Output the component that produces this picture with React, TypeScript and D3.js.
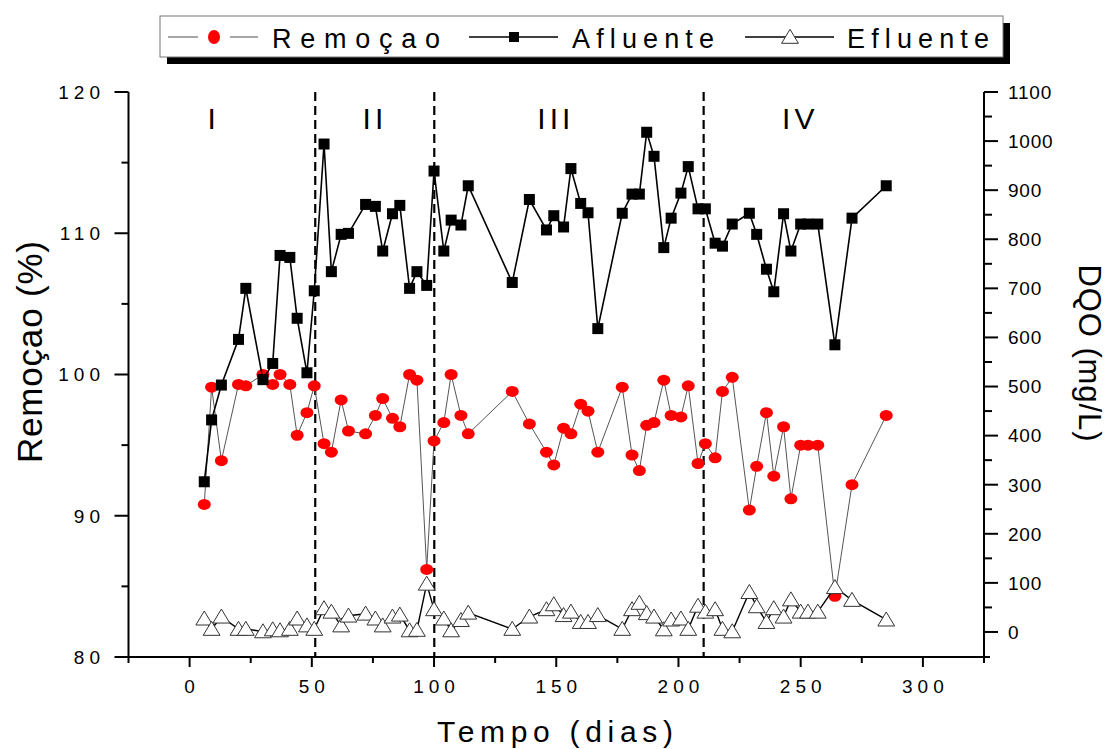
import React from "react";
import * as d3 from "d3";

const days = [6, 9, 13, 20, 23, 30, 34, 37, 41, 44, 48, 51, 55, 58, 62, 65, 72, 76, 79, 83, 86, 90, 93, 97, 100, 104, 107, 111, 114, 132, 139, 146, 149, 153, 156, 160, 163, 167, 177, 181, 184, 187, 190, 194, 197, 201, 204, 208, 211, 215, 218, 222, 229, 232, 236, 239, 243, 246, 250, 253, 257, 264, 271, 285];

const remocao = [90.8, 99.1, 93.9, 99.3, 99.2, 100.0, 99.3, 100.0, 99.3, 95.7, 97.3, 99.2, 95.1, 94.5, 98.2, 96.0, 95.8, 97.1, 98.3, 96.9, 96.3, 100.0, 99.6, 86.2, 95.3, 96.6, 100.0, 97.1, 95.8, 98.8, 96.5, 94.5, 93.6, 96.2, 95.8, 97.9, 97.4, 94.5, 99.1, 94.3, 93.2, 96.4, 96.6, 99.6, 97.1, 97.0, 99.2, 93.7, 95.1, 94.1, 98.8, 99.8, 90.4, 93.5, 97.3, 92.8, 96.3, 91.2, 95.0, 95.0, 95.0, 84.3, 92.2, 97.1];

const afluente = [306, 432, 503, 596, 700, 514, 547, 767, 763, 639, 528, 695, 994, 734, 810, 812, 871, 867, 776, 852, 869, 700, 734, 706, 939, 776, 839, 829, 909, 712, 881, 819, 848, 825, 944, 873, 854, 618, 853, 892, 892, 1018, 969, 783, 843, 894, 948, 862, 862, 792, 786, 831, 853, 810, 739, 693, 852, 776, 831, 831, 831, 585, 843, 909];

const efluente = [27, 6, 31, 6, 6, 1, 5, 3, 6, 27, 13, 6, 48, 41, 13, 33, 37, 27, 13, 31, 35, 3, 4, 98, 46, 27, 3, 24, 39, 6, 31, 46, 56, 34, 41, 20, 20, 34, 6, 46, 59, 38, 31, 5, 25, 27, 6, 53, 41, 46, 6, 1, 81, 52, 20, 48, 31, 66, 41, 41, 41, 91, 65, 25];

const phaseBounds = [51.4, 100.1, 210.3];
const phaseLabels = ["I", "II", "III", "IV"];
const phaseLabelX = [9, 75, 149, 249];

const xMajor = [0, 50, 100, 150, 200, 250, 300];
const xMinor = [-25, 25, 75, 125, 175, 225, 275, 325];
const yLeftMajor = [80, 90, 100, 110, 120];
const yLeftMinor = [85, 95, 105, 115];
const yRightMajor = [0, 100, 200, 300, 400, 500, 600, 700, 800, 900, 1000, 1100];
const yRightMinor = [50, 150, 250, 350, 450, 550, 650, 750, 850, 950, 1050];

const legendItems = ["Remoçao", "Afluente", "Efluente"];

const FONT = "'Liberation Sans', Arial, sans-serif";

export default function App() {
  const W = 1110, H = 749;
  const x = d3.scaleLinear().domain([-25, 325]).range([128.5, 984]);
  const yL = d3.scaleLinear().domain([80, 120]).range([657, 92]);
  const yR = d3.scaleLinear().domain([-51, 1100]).range([657, 92]);
  const left = x.range()[0], right = x.range()[1];
  const top = 92, bottom = 657;

  const remLine = d3.line<number>().x((_, i) => x(days[i])).y((d) => yL(d))(remocao) || "";
  const afLine = d3.line<number>().x((_, i) => x(days[i])).y((d) => yR(d))(afluente) || "";
  const efLine = d3.line<number>().x((_, i) => x(days[i])).y((d) => yR(d))(efluente) || "";

  const tri = (cx: number, cy: number, s: number) =>
    `M${cx},${cy - s * 0.55} L${cx + s * 0.6},${cy + s * 0.45} L${cx - s * 0.6},${cy + s * 0.45} Z`;

  return (
    <svg width={W} height={H} style={{ position: "absolute", left: 0, top: 0, background: "#fff" }} fontFamily={FONT}>
      <rect x={0} y={0} width={W} height={H} fill="#fff" />

      {/* legend */}
      <rect x={167} y={23} width={843} height={41} fill="#000" />
      <rect x={160} y={16} width={843} height={41} fill="#fff" stroke="#777" strokeWidth={1} />
      <line x1={168} x2={198} y1={37} y2={37} stroke="#777" strokeWidth={1.3} />
      <line x1={230} x2={258} y1={37} y2={37} stroke="#777" strokeWidth={1.3} />
      <ellipse cx={214} cy={37} rx={6} ry={7} fill="#ff0000" />
      <text x={272} y={48} fontSize={27} textLength={168} lengthAdjust="spacing">{legendItems[0]}</text>
      <line x1={469} x2={558} y1={37} y2={37} stroke="#000" strokeWidth={1.5} />
      <rect x={509} y={32} width={10} height={10} fill="#000" />
      <text x={572} y={48} fontSize={27} textLength={142} lengthAdjust="spacing">{legendItems[1]}</text>
      <line x1={745} x2={834} y1={37} y2={37} stroke="#000" strokeWidth={1.5} />
      <path d={tri(790, 37, 14)} fill="#fff" stroke="#333" strokeWidth={1} />
      <text x={847} y={48} fontSize={27} textLength={142} lengthAdjust="spacing">{legendItems[2]}</text>

      {/* phase dividers */}
      {phaseBounds.map((b, i) => (
        <line key={"pb" + i} x1={x(b)} x2={x(b)} y1={top} y2={bottom} stroke="#000" strokeWidth={2.2} strokeDasharray="9,5" />
      ))}
      {phaseLabels.map((p, i) => (
        <text key={"pl" + i} x={x(phaseLabelX[i])} y={129} fontSize={30} textAnchor="middle" letterSpacing={4} dx={2}>{p}</text>
      ))}

      {/* Remoção series */}
      <path d={remLine} fill="none" stroke="#555" strokeWidth={1} />
      {remocao.map((v, i) => (
        <ellipse key={"r" + i} cx={x(days[i])} cy={yL(v)} rx={6.5} ry={5.5} fill="#ff0000" />
      ))}

      {/* Afluente series */}
      <path d={afLine} fill="none" stroke="#000" strokeWidth={1.6} />
      {afluente.map((v, i) => (
        <rect key={"a" + i} x={x(days[i]) - 5.5} y={yR(v) - 5.5} width={11} height={11} fill="#000" />
      ))}

      {/* Efluente series */}
      <path d={efLine} fill="none" stroke="#000" strokeWidth={1.4} />
      {efluente.map((v, i) => (
        <path key={"e" + i} d={tri(x(days[i]), yR(v), 14)} fill="#fff" stroke="#333" strokeWidth={1} />
      ))}

      {/* axes */}
      <line x1={left} x2={left} y1={top} y2={bottom} stroke="#000" strokeWidth={2} />
      <line x1={right} x2={right} y1={top} y2={bottom} stroke="#000" strokeWidth={2} />
      <line x1={left - 1} x2={right + 6} y1={bottom} y2={bottom} stroke="#000" strokeWidth={2} />

      {xMajor.map((t) => (
        <g key={"xm" + t}>
          <line x1={x(t)} x2={x(t)} y1={bottom} y2={bottom + 10} stroke="#000" strokeWidth={2} />
          <text x={x(t)} y={693} fontSize={19} textAnchor="middle" letterSpacing={5} dx={2.5}>{t}</text>
        </g>
      ))}
      {xMinor.map((t) => (
        <line key={"xn" + t} x1={x(t)} x2={x(t)} y1={bottom} y2={bottom + 6} stroke="#000" strokeWidth={2} />
      ))}

      {yLeftMajor.map((t) => (
        <g key={"ylm" + t}>
          <line x1={left} x2={left - 14} y1={yL(t)} y2={yL(t)} stroke="#000" strokeWidth={2} />
          <text x={100} y={yL(t) + 6.8} fontSize={19} textAnchor="end" letterSpacing={5} dx={5}>{t}</text>
        </g>
      ))}
      {yLeftMinor.map((t) => (
        <line key={"yln" + t} x1={left} x2={left - 7} y1={yL(t)} y2={yL(t)} stroke="#000" strokeWidth={2} />
      ))}

      {yRightMajor.map((t) => (
        <g key={"yrm" + t}>
          <line x1={right} x2={right + 14} y1={yR(t)} y2={yR(t)} stroke="#000" strokeWidth={2} />
          <text x={1008} y={yR(t) + 6.8} fontSize={19} textAnchor="start" letterSpacing={0.8}>{t}</text>
        </g>
      ))}
      {yRightMinor.map((t) => (
        <line key={"yrn" + t} x1={right} x2={right + 8} y1={yR(t)} y2={yR(t)} stroke="#000" strokeWidth={2} />
      ))}

      {/* axis titles */}
      <text x={437} y={742} fontSize={30} textLength={236} lengthAdjust="spacing">Tempo (dias)</text>
      <text transform="translate(42,352) rotate(-90)" fontSize={35} textAnchor="middle" textLength={222} lengthAdjust="spacing">Remoçao (%)</text>
      <text transform="translate(1079,353) rotate(90)" fontSize={31} textAnchor="middle" textLength={177} lengthAdjust="spacing">DQO (mg/L)</text>
    </svg>
  );
}
